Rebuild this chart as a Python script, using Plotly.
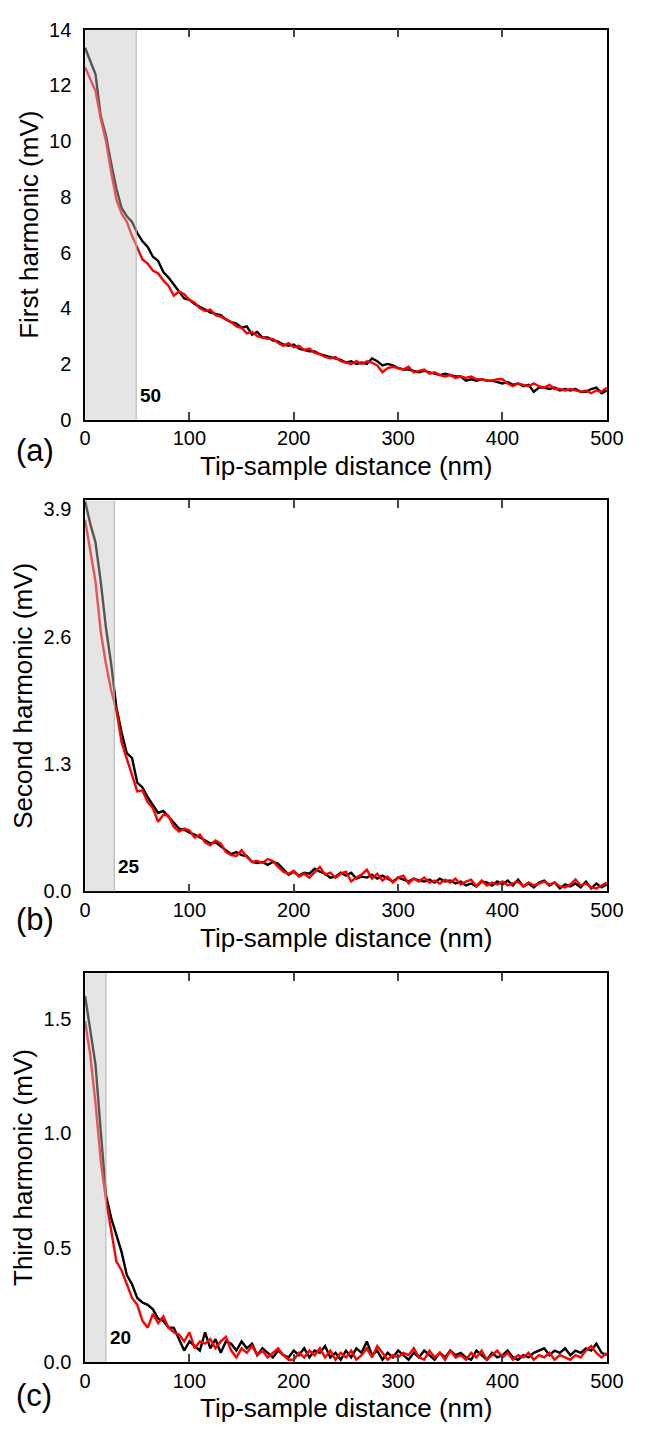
import plotly.graph_objects as go

# ---------------- data ----------------
distance_nm = list(range(0, 505, 5))

first_black = [13.35, 12.9, 12.4, 10.9, 10.2, 9.2, 8.3, 7.6, 7.3, 7.1,
               6.7, 6.4, 6.2, 5.85, 5.7, 5.3, 5.1, 4.85, 4.6, 4.35,
               4.3, 4.15, 4.05, 3.95, 3.85, 3.8, 3.75, 3.6, 3.5, 3.45,
               3.3, 3.35, 3.05, 3.15, 2.95, 2.95, 2.85, 2.8, 2.7, 2.65,
               2.7, 2.55, 2.5, 2.45, 2.45, 2.35, 2.3, 2.25, 2.2, 2.15,
               2.05, 2.1, 2.0, 2.05, 2.0, 2.2, 2.1, 1.95, 2.0, 1.95,
               1.85, 1.8, 1.8, 1.75, 1.7, 1.75, 1.7, 1.65, 1.6, 1.65,
               1.6, 1.55, 1.55, 1.4, 1.45, 1.4, 1.45, 1.4, 1.4, 1.35,
               1.3, 1.35, 1.25, 1.3, 1.2, 1.25, 1.0, 1.15, 1.15, 1.1,
               1.15, 1.05, 1.1, 1.05, 1.1, 1.0, 1.0, 1.1, 1.15, 0.95,
               1.05]
first_red = [12.65, 12.2, 11.8, 10.8, 10.0, 8.9, 7.9, 7.4, 7.1, 6.6,
             6.2, 5.75, 5.6, 5.35, 5.25, 5.0, 4.8, 4.45, 4.6, 4.5,
             4.3, 4.2, 4.0, 3.9, 3.95, 3.75, 3.7, 3.6, 3.5, 3.35,
             3.3, 3.1, 3.15, 3.0, 2.95, 2.9, 2.9, 2.75, 2.65, 2.75,
             2.6, 2.65, 2.5, 2.55, 2.4, 2.35, 2.25, 2.2, 2.25, 2.1,
             2.05, 2.0, 2.1, 2.0, 2.1, 2.05, 1.95, 1.7, 1.85, 1.9,
             1.85, 1.8, 1.9, 1.7, 1.75, 1.8, 1.65, 1.7, 1.6, 1.55,
             1.6, 1.5, 1.55, 1.5, 1.55, 1.45, 1.45, 1.4, 1.4, 1.45,
             1.45, 1.3, 1.2, 1.3, 1.25, 1.2, 1.3, 1.2, 1.15, 1.25,
             1.1, 1.1, 1.05, 1.1, 1.05, 1.0, 1.05, 0.95, 1.05, 1.0,
             1.15]

second_black = [3.98, 3.75, 3.56, 3.16, 2.69, 2.32, 1.88, 1.62, 1.41, 1.36,
                1.11, 1.06, 0.96, 0.88, 0.8, 0.82, 0.76, 0.7, 0.64, 0.63,
                0.6, 0.58, 0.55, 0.52, 0.49, 0.5, 0.46, 0.42, 0.38, 0.4,
                0.37, 0.36, 0.3, 0.29, 0.3, 0.27, 0.3, 0.28, 0.22, 0.17,
                0.2, 0.16, 0.19, 0.18, 0.23, 0.2, 0.18, 0.14, 0.15, 0.19,
                0.16, 0.19, 0.13, 0.15, 0.14, 0.17, 0.13, 0.16, 0.13, 0.1,
                0.14, 0.12, 0.1, 0.13, 0.11, 0.1, 0.12, 0.09, 0.13, 0.1,
                0.11, 0.08, 0.1, 0.06, 0.08, 0.05, 0.1, 0.09, 0.06, 0.1,
                0.07, 0.11, 0.06, 0.12, 0.05, 0.08, 0.04, 0.09, 0.11, 0.06,
                0.09, 0.03, 0.07, 0.05, 0.08, 0.04, 0.1, 0.03, 0.08, 0.04,
                0.07]
second_red = [3.79, 3.49, 3.16, 2.65, 2.32, 2.05, 1.85, 1.52, 1.35, 1.2,
              1.02, 1.03, 0.91, 0.85, 0.71, 0.78, 0.77, 0.66, 0.61, 0.64,
              0.62, 0.55, 0.58, 0.5, 0.47, 0.52, 0.49, 0.4, 0.37, 0.36,
              0.42, 0.35, 0.3, 0.31, 0.29, 0.33, 0.31, 0.25, 0.2, 0.18,
              0.21, 0.15, 0.18, 0.14, 0.2, 0.25, 0.17, 0.19, 0.14, 0.18,
              0.2, 0.1, 0.14, 0.17, 0.22, 0.13, 0.18, 0.11, 0.15, 0.09,
              0.14, 0.16, 0.08, 0.13, 0.1, 0.14, 0.09, 0.11, 0.08, 0.12,
              0.09, 0.13, 0.07, 0.1, 0.12, 0.05, 0.11, 0.06, 0.09, 0.07,
              0.1, 0.06, 0.08, 0.1, 0.05, 0.09, 0.06, 0.08, 0.1, 0.07,
              0.09, 0.05, 0.04, 0.07, 0.12, 0.06, 0.08, 0.04, 0.03, 0.06,
              0.09]

third_black = [1.6, 1.45, 1.3, 1.01, 0.73, 0.63, 0.55, 0.48, 0.38, 0.34,
               0.28, 0.26, 0.25, 0.23, 0.19, 0.18, 0.15, 0.15, 0.1, 0.05,
               0.09, 0.07, 0.05, 0.13, 0.06, 0.1, 0.04, 0.09, 0.08, 0.05,
               0.09, 0.06, 0.08, 0.03, 0.06, 0.04, 0.02, 0.05, 0.03, 0.02,
               0.05, 0.03, 0.06, 0.02, 0.05, 0.04, 0.07, 0.02, 0.04, 0.01,
               0.05, 0.02, 0.06, 0.04, 0.09, 0.03, 0.05, 0.01, 0.04, 0.02,
               0.05, 0.03, 0.01, 0.04, 0.02, 0.05, 0.03, 0.01, 0.04, 0.02,
               0.05, 0.03, 0.04, 0.02, 0.01, 0.05, 0.03, 0.01, 0.04, 0.02,
               0.03, 0.05, 0.02, 0.01, 0.03, 0.02, 0.04, 0.05, 0.06, 0.03,
               0.05, 0.04, 0.06, 0.03, 0.05, 0.04, 0.06, 0.05, 0.08, 0.04,
               0.03]
third_red = [1.49, 1.34, 1.13, 0.88, 0.71, 0.57, 0.44, 0.4, 0.34, 0.28,
             0.25, 0.18, 0.15, 0.21, 0.17, 0.2, 0.15, 0.13, 0.12, 0.09,
             0.13, 0.06, 0.09, 0.08, 0.1, 0.06, 0.09, 0.11, 0.05, 0.02,
             0.06, 0.04, 0.07, 0.03, 0.05, 0.02, 0.04, 0.06, 0.03, 0.01,
             0.01, 0.04, 0.02, 0.05, 0.03, 0.06, 0.02, 0.05, 0.01, 0.04,
             0.02, 0.05, 0.01, 0.03, 0.06, 0.02, 0.07, 0.04, 0.01, 0.03,
             0.02, 0.04, 0.03, 0.06, 0.02, 0.01, 0.05, 0.02, 0.04, 0.01,
             0.05, 0.02, 0.03, 0.01, 0.04, 0.02, 0.05, 0.01, 0.03, 0.05,
             0.02, 0.04, 0.01, 0.03, 0.02, 0.04, 0.01, 0.03, 0.02, 0.04,
             0.01, 0.03, 0.02, 0.01, 0.03, 0.02, 0.05, 0.07, 0.04, 0.02,
             0.04]

x_title = "Tip-sample distance (nm)"
y_titles = ["First harmonic (mV)", "Second harmonic (mV)", "Third harmonic (mV)"]
panel_tags = ["(a)", "(b)", "(c)"]
shade_end = [49, 28, 20]
shade_labels = ["50", "25", "20"]
y_ranges = [[0, 14], [0, 3.99], [0, 1.7]]
y_tickvals = [[0, 2, 4, 6, 8, 10, 12, 14], [0.0, 1.3, 2.6, 3.9], [0.0, 0.5, 1.0, 1.5]]
y_ticktext = [["0", "2", "4", "6", "8", "10", "12", "14"],
              ["0.0", "1.3", "2.6", "3.9"],
              ["0.0", "0.5", "1.0", "1.5"]]
x_tickvals = [0, 100, 200, 300, 400, 500]

# ---------------- layout geometry ----------------
W, H = 646, 1438
x_left, x_right = 82, 623
panels_px = [(19, 415), (497, 894), (977, 1372)]  # (top, bottom) in px
tag_y_px = [446, 923, 1406]

def py(p):
    return 1 - p / H

FONT = "Liberation Sans, Arial, sans-serif"

fig = go.Figure()
series = [(first_black, first_red), (second_black, second_red), (third_black, third_red)]

layout = dict(
    width=W, height=H,
    margin=dict(l=0, r=0, t=0, b=0),
    paper_bgcolor="white", plot_bgcolor="white",
    showlegend=False,
    font=dict(family=FONT, color="black"),
)
shapes = []
annotations = []

for i in range(3):
    n = i + 1
    xa = "x" if n == 1 else f"x{n}"
    ya = "y" if n == 1 else f"y{n}"
    blk, red = series[i]
    fig.add_trace(go.Scatter(x=distance_nm, y=blk, mode="lines",
                             line=dict(color="black", width=2.4),
                             xaxis=xa, yaxis=ya))
    fig.add_trace(go.Scatter(x=distance_nm, y=red, mode="lines",
                             line=dict(color="#ff0000", width=2.4),
                             xaxis=xa, yaxis=ya))
    top, bot = panels_px[i]
    dom = [py(bot), py(top)]
    xkey = "xaxis" if n == 1 else f"xaxis{n}"
    ykey = "yaxis" if n == 1 else f"yaxis{n}"
    layout[xkey] = dict(
        domain=[x_left / W, x_right / W], anchor=ya, range=[0, 500],
        tickvals=x_tickvals, ticks="inside", ticklen=8, tickwidth=1.5,
        showline=True, linecolor="black", linewidth=1.5, mirror="ticks",
        showgrid=False, zeroline=False,
        tickfont=dict(size=20, family=FONT), ticklabelstandoff=0,
    )
    layout[ykey] = dict(
        domain=dom, anchor=xa, range=y_ranges[i],
        tickvals=y_tickvals[i], ticktext=y_ticktext[i], ticks="",
        showline=True, linecolor="black", linewidth=1.5, mirror=True,
        showgrid=False, zeroline=False,
        tickfont=dict(size=20, family=FONT), ticklabelstandoff=8,
        title=dict(text=y_titles[i], font=dict(size=26, family=FONT), standoff=3),
    )
    layout[f"yaxis{n + 3}"] = dict(
        overlaying=ya, anchor=xa, side="right", range=y_ranges[i],
        tickvals=y_tickvals[i], ticks="inside", ticklen=8, tickwidth=1.5,
        showticklabels=False, showline=False, showgrid=False, zeroline=False,
    )
    # shaded near-field region
    shapes.append(dict(type="rect", xref=xa, yref=f"{ya} domain",
                       x0=0, x1=shade_end[i], y0=0, y1=1,
                       fillcolor="rgba(195,195,195,0.44)", line=dict(width=0),
                       layer="above"))
    shapes.append(dict(type="line", xref=xa, yref=f"{ya} domain",
                       x0=shade_end[i], x1=shade_end[i], y0=0, y1=1,
                       line=dict(color="#b0b0b0", width=1), layer="above"))
    annotations.append(dict(xref=xa, yref=f"{ya} domain",
                             x=shade_end[i] + 2, y=25 / (bot - top),
                             xanchor="left", yanchor="middle", showarrow=False,
                             text=f"<b>{shade_labels[i]}</b>",
                             font=dict(size=19, family=FONT, color="black")))
    annotations.append(dict(xref="paper", yref="paper",
                             x=(x_left + x_right) / 2 / W, y=py(bot + 47),
                             xanchor="center", yanchor="middle", showarrow=False,
                             text=x_title,
                             font=dict(size=26, family=FONT, color="black")))
    annotations.append(dict(xref="paper", yref="paper",
                             x=8 / W, y=py(tag_y_px[i]),
                             xanchor="left", yanchor="middle", showarrow=False,
                             text=panel_tags[i],
                             font=dict(size=31, family=FONT, color="black")))

layout["shapes"] = shapes
layout["annotations"] = annotations
fig.update_layout(**layout)

fig.write_html("out.html")
